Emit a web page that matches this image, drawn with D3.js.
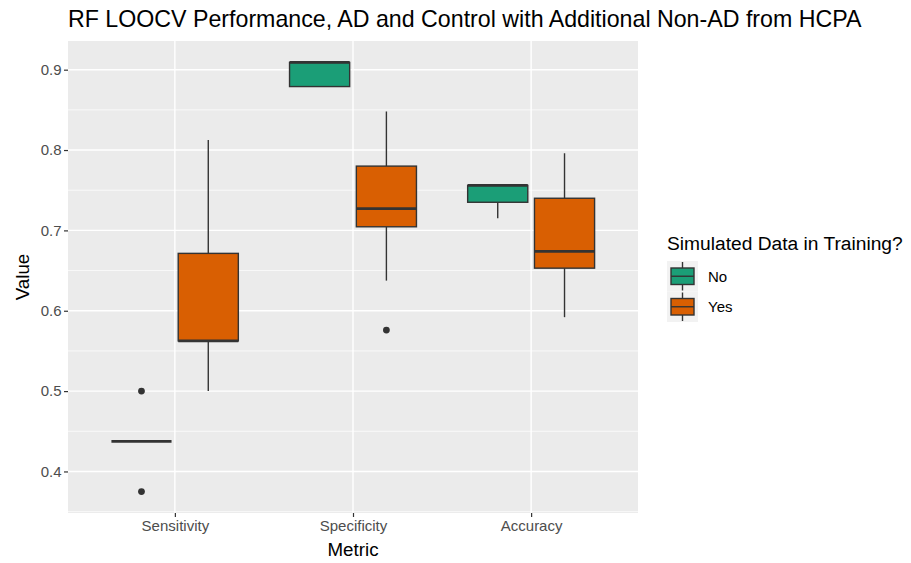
<!DOCTYPE html>
<html><head><meta charset="utf-8">
<script src="https://cdn.jsdelivr.net/npm/d3@7"></script>
<style>body{margin:0;background:#fff;} text{font-family:"Liberation Sans",Arial,sans-serif;}</style>
</head><body>
<svg id="chart" width="911" height="563"></svg>
<script>
const categories = ["Sensitivity", "Specificity", "Accuracy"];
const groups = ["No", "Yes"];
const groupColors = ["#1B9E77", "#D95F02"];
// five-number summaries per category (order of categories)
const noLower  = [0.4375, 0.879, 0.715];
const noQ1     = [0.4375, 0.879, 0.735];
const noMedian = [0.4375, 0.909, 0.756];
const noQ3     = [0.4375, 0.909, 0.756];
const noUpper  = [0.4375, 0.909, 0.756];
const noOutliers = [[0.5, 0.375], [], []];
const yesLower  = [0.5, 0.6375, 0.592];
const yesQ1     = [0.5625, 0.7045, 0.653];
const yesMedian = [0.5625, 0.727, 0.674];
const yesQ3     = [0.6714, 0.780, 0.740];
const yesUpper  = [0.8125, 0.848, 0.796];
const yesOutliers = [[], [0.576], []];
const yTicks = [0.4, 0.5, 0.6, 0.7, 0.8, 0.9];
const yMinor = [0.35, 0.45, 0.55, 0.65, 0.75, 0.85];

const boxes = [];
categories.forEach((c, i) => {
  boxes.push({cat: c, grp: "No", lower: noLower[i], q1: noQ1[i], med: noMedian[i], q3: noQ3[i], upper: noUpper[i], out: noOutliers[i]});
  boxes.push({cat: c, grp: "Yes", lower: yesLower[i], q1: yesQ1[i], med: yesMedian[i], q3: yesQ3[i], upper: yesUpper[i], out: yesOutliers[i]});
});

const svg = d3.select("#chart");
const P = {l: 68, r: 638, t: 41, b: 513};

const allVals = boxes.flatMap(b => [b.lower, b.upper, ...b.out]);
const vmin = d3.min(allVals), vmax = d3.max(allVals), rng = vmax - vmin;
const y = d3.scaleLinear().domain([vmin - 0.05 * rng, vmax + 0.05 * rng]).range([P.b, P.t]);
// ggplot discrete expansion: 0.6 units each side
const unit = (P.r - P.l) / (categories.length - 1 + 1.2);
const x = d3.scalePoint().domain(categories).range([P.l + 0.6 * unit, P.r - 0.6 * unit]);
const xg = d3.scaleBand().domain(groups).range([-unit * 0.375, unit * 0.375]);
const color = d3.scaleOrdinal().domain(groups).range(groupColors);

svg.append("rect").attr("x", P.l).attr("y", P.t).attr("width", P.r - P.l).attr("height", P.b - P.t).attr("fill", "#EBEBEB");
const g = svg.append("g");
yMinor.forEach(v => g.append("line").attr("x1", P.l).attr("x2", P.r).attr("y1", y(v)).attr("y2", y(v)).attr("stroke", "#fff").attr("stroke-width", 0.7));
yTicks.forEach(v => g.append("line").attr("x1", P.l).attr("x2", P.r).attr("y1", y(v)).attr("y2", y(v)).attr("stroke", "#fff").attr("stroke-width", 1.4));
categories.forEach(c => g.append("line").attr("x1", x(c)).attr("x2", x(c)).attr("y1", P.t).attr("y2", P.b).attr("stroke", "#fff").attr("stroke-width", 1.4));

// boxes
const bw = xg.bandwidth() * 0.9;
const sw = 1.4;
boxes.forEach(b => {
  const cx = x(b.cat) + xg(b.grp) + xg.bandwidth() / 2;
  const x0 = cx - bw / 2;
  const bg = g.append("g");
  bg.append("line").attr("x1", cx).attr("x2", cx).attr("y1", y(b.upper)).attr("y2", y(b.q3)).attr("stroke", "#333").attr("stroke-width", sw);
  bg.append("line").attr("x1", cx).attr("x2", cx).attr("y1", y(b.q1)).attr("y2", y(b.lower)).attr("stroke", "#333").attr("stroke-width", sw);
  bg.append("rect").attr("x", x0).attr("width", bw).attr("y", y(b.q3)).attr("height", y(b.q1) - y(b.q3))
    .attr("fill", color(b.grp)).attr("stroke", "#333").attr("stroke-width", sw);
  bg.append("line").attr("x1", x0).attr("x2", x0 + bw).attr("y1", y(b.med)).attr("y2", y(b.med)).attr("stroke", "#333").attr("stroke-width", 2.8);
  b.out.forEach(o => bg.append("circle").attr("cx", cx).attr("cy", y(o)).attr("r", 3.4).attr("fill", "#333"));
});

// axes
const ya = svg.append("g").attr("transform", `translate(${P.l},0)`)
  .call(d3.axisLeft(y).tickValues(yTicks).tickSize(4).tickPadding(2.5).tickFormat(d3.format(".1f")));
ya.select(".domain").remove();
ya.selectAll("line").attr("stroke", "#333").attr("stroke-width", 1.2);
ya.selectAll("text").attr("fill", "#4D4D4D").style("font-size", "15px");

const xa = svg.append("g").attr("transform", `translate(0,${P.b})`)
  .call(d3.axisBottom(x).tickSize(4).tickPadding(3));
xa.select(".domain").remove();
xa.selectAll("line").attr("stroke", "#333").attr("stroke-width", 1.2);
xa.selectAll("text").attr("fill", "#4D4D4D").style("font-size", "15px");

svg.append("text").attr("x", (P.l + P.r) / 2).attr("y", 556).attr("text-anchor", "middle").style("font-size", "18.75px").attr("fill", "#000").text("Metric");
svg.append("text").attr("transform", `translate(29,${(P.t + P.b) / 2}) rotate(-90)`).attr("text-anchor", "middle").style("font-size", "18.75px").attr("fill", "#000").text("Value");
svg.append("text").attr("x", P.l).attr("y", 26.5).style("font-size", "23.2px").attr("fill", "#000").text("RF LOOCV Performance, AD and Control with Additional Non-AD from HCPA");

// legend
const L = svg.append("g").attr("transform", "translate(667,0)");
L.append("text").attr("x", 0).attr("y", 250).style("font-size", "19.2px").text("Simulated Data in Training?");
groups.forEach((gr, i) => {
  const ky = 261 + i * 30.5;
  L.append("rect").attr("x", 0).attr("y", ky).attr("width", 31).attr("height", 30.5).attr("fill", "#F2F2F2");
  L.append("line").attr("x1", 15.5).attr("x2", 15.5).attr("y1", ky + 1).attr("y2", ky + 29.5).attr("stroke", "#333").attr("stroke-width", sw);
  L.append("rect").attr("x", 4).attr("y", ky + 7).attr("width", 23).attr("height", 16.5).attr("fill", color(gr)).attr("stroke", "#333").attr("stroke-width", sw);
  L.append("line").attr("x1", 4).attr("x2", 27).attr("y1", ky + 15.25).attr("y2", ky + 15.25).attr("stroke", "#333").attr("stroke-width", sw);
  L.append("text").attr("x", 41).attr("y", ky + 15.25).attr("dy", "0.35em").style("font-size", "15px").text(gr);
});
</script>
</body></html>
